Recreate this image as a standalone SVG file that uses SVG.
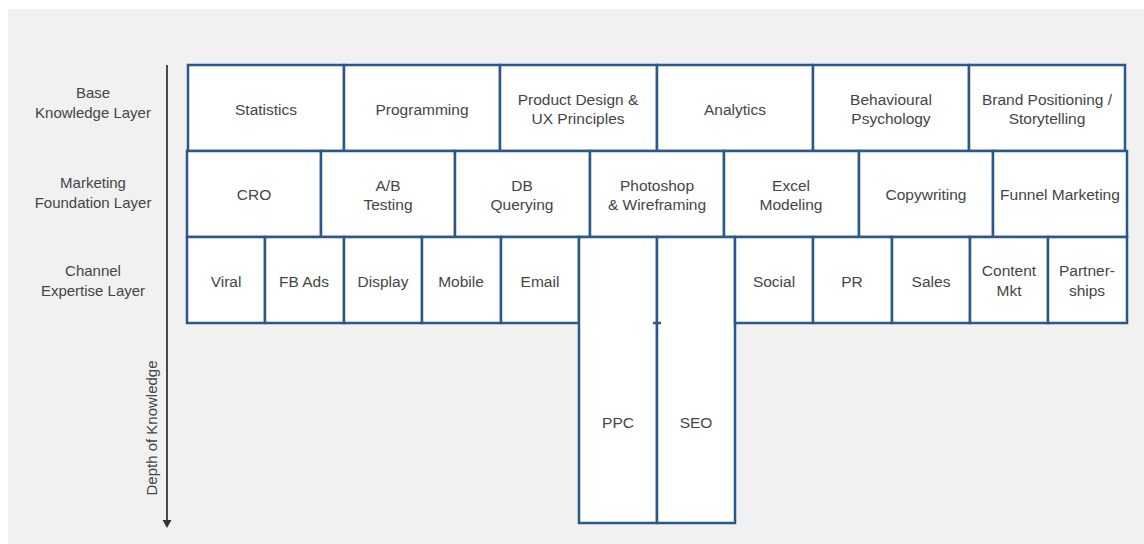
<svg xmlns="http://www.w3.org/2000/svg" width="1144" height="544" viewBox="0 0 1144 544">
  <style>
    .cell { fill: #ffffff; stroke: #2b5789; stroke-width: 2.5; }
    .lbl { font-family: "Liberation Sans", Arial, Helvetica, sans-serif; font-size: 15.5px; fill: #454545; text-anchor: middle; }
    .side { font-family: "Liberation Sans", Arial, Helvetica, sans-serif; font-size: 15px; fill: #454545; text-anchor: middle; }
    .axis { stroke: #4a4a4a; stroke-width: 2; fill: none; }
    .tick { stroke: #2b5789; stroke-width: 2.5; }
  </style>
  <defs>
    <marker id="arrowDown" viewBox="0 0 10 10" refX="5" refY="10" markerWidth="5" markerHeight="4" markerUnits="strokeWidth" orient="auto-start-reverse">
      <path d="M0,0 L10,5 L0,10 Z" fill="#333333" transform="rotate(90 5 5)"/>
    </marker>
  </defs>

  <!-- backdrop -->
  <rect x="0" y="0" width="1144" height="544" fill="#ffffff"/>
  <rect x="8" y="9" width="1136" height="535" fill="#f1f1f2"/>

  <!-- layer labels -->
  <g id="layer-labels">
    <text class="side" x="93" y="98">Base</text>
    <text class="side" x="93" y="118">Knowledge Layer</text>
    <text class="side" x="93" y="188">Marketing</text>
    <text class="side" x="93" y="208">Foundation Layer</text>
    <text class="side" x="93" y="276">Channel</text>
    <text class="side" x="93" y="296">Expertise Layer</text>
  </g>

  <!-- depth axis -->
  <g id="depth-axis">
    <line class="axis" x1="167" y1="65" x2="167" y2="521"/>
    <path d="M162.5,520 L171.5,520 L167,528 Z" fill="#333333"/>
    <text class="side" transform="translate(157,428) rotate(-90)" x="0" y="0">Depth of Knowledge</text>
  </g>

  <!-- base knowledge layer -->
  <g id="statistics"><rect class="cell" x="188" y="65" width="156" height="86"/><text class="lbl" x="266" y="115">Statistics</text></g>
  <g id="programming"><rect class="cell" x="344" y="65" width="156" height="86"/><text class="lbl" x="422" y="115">Programming</text></g>
  <g id="product-design"><rect class="cell" x="500" y="65" width="157" height="86"/><text class="lbl" x="578" y="105">Product Design &amp;</text><text class="lbl" x="578" y="124">UX Principles</text></g>
  <g id="analytics"><rect class="cell" x="657" y="65" width="156" height="86"/><text class="lbl" x="735" y="115">Analytics</text></g>
  <g id="behavioural-psychology"><rect class="cell" x="813" y="65" width="156" height="86"/><text class="lbl" x="891" y="105">Behavioural</text><text class="lbl" x="891" y="124">Psychology</text></g>
  <g id="brand-positioning"><rect class="cell" x="969" y="65" width="156" height="86"/><text class="lbl" x="1047" y="105">Brand Positioning /</text><text class="lbl" x="1047" y="124">Storytelling</text></g>

  <!-- marketing foundation layer -->
  <g id="cro"><rect class="cell" x="187" y="151" width="134" height="86"/><text class="lbl" x="254" y="200">CRO</text></g>
  <g id="ab-testing"><rect class="cell" x="321" y="151" width="134" height="86"/><text class="lbl" x="388" y="191">A/B</text><text class="lbl" x="388" y="210">Testing</text></g>
  <g id="db-querying"><rect class="cell" x="455" y="151" width="135" height="86"/><text class="lbl" x="522" y="191">DB</text><text class="lbl" x="522" y="210">Querying</text></g>
  <g id="photoshop"><rect class="cell" x="590" y="151" width="134" height="86"/><text class="lbl" x="657" y="191">Photoshop</text><text class="lbl" x="657" y="210">&amp; Wireframing</text></g>
  <g id="excel-modeling"><rect class="cell" x="724" y="151" width="135" height="86"/><text class="lbl" x="791" y="191">Excel</text><text class="lbl" x="791" y="210">Modeling</text></g>
  <g id="copywriting"><rect class="cell" x="859" y="151" width="134" height="86"/><text class="lbl" x="926" y="200">Copywriting</text></g>
  <g id="funnel-marketing"><rect class="cell" x="993" y="151" width="134" height="86"/><text class="lbl" x="1060" y="200">Funnel Marketing</text></g>

  <!-- channel expertise layer -->
  <g id="viral"><rect class="cell" x="187" y="237" width="78" height="86"/><text class="lbl" x="226" y="287">Viral</text></g>
  <g id="fb-ads"><rect class="cell" x="265" y="237" width="79" height="86"/><text class="lbl" x="304" y="287">FB Ads</text></g>
  <g id="display"><rect class="cell" x="344" y="237" width="78" height="86"/><text class="lbl" x="383" y="287">Display</text></g>
  <g id="mobile"><rect class="cell" x="422" y="237" width="79" height="86"/><text class="lbl" x="461" y="287">Mobile</text></g>
  <g id="email"><rect class="cell" x="501" y="237" width="78" height="86"/><text class="lbl" x="540" y="287">Email</text></g>
  <g id="ppc"><rect class="cell" x="579" y="237" width="78" height="286"/><text class="lbl" x="618" y="428">PPC</text></g>
  <g id="seo"><rect class="cell" x="657" y="237" width="78" height="286"/><text class="lbl" x="696" y="428">SEO</text></g>
  <g id="social"><rect class="cell" x="735" y="237" width="78" height="86"/><text class="lbl" x="774" y="287">Social</text></g>
  <g id="pr"><rect class="cell" x="813" y="237" width="79" height="86"/><text class="lbl" x="852" y="287">PR</text></g>
  <g id="sales"><rect class="cell" x="892" y="237" width="78" height="86"/><text class="lbl" x="931" y="287">Sales</text></g>
  <g id="content-mkt"><rect class="cell" x="970" y="237" width="78" height="86"/><text class="lbl" x="1009" y="276">Content</text><text class="lbl" x="1009" y="296">Mkt</text></g>
  <g id="partnerships"><rect class="cell" x="1048" y="237" width="79" height="86"/><text class="lbl" x="1087" y="276">Partner-</text><text class="lbl" x="1087" y="296">ships</text></g>

  <!-- joints where the layer edge meets the deep columns -->
  <g id="connectors">
    <line class="tick" x1="653" y1="323" x2="661" y2="323"/>
  </g>
</svg>
